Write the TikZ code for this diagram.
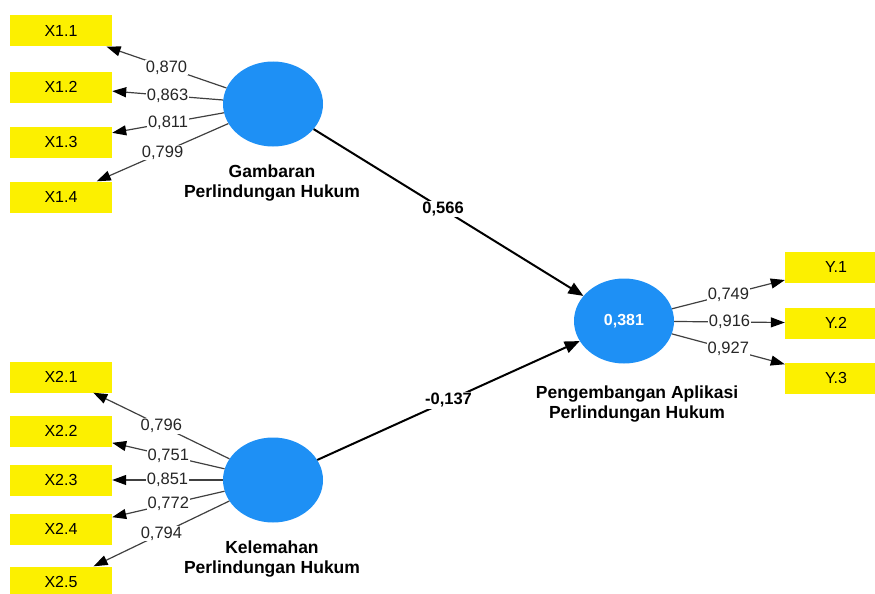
\documentclass[tikz,border=0pt]{standalone}
\usepackage{fontspec}
\setmainfont{Liberation Sans}
\usetikzlibrary{shapes.geometric,arrows.meta}
\definecolor{indc}{RGB}{252,240,0}
\definecolor{latc}{RGB}{30,144,245}
\begin{document}
\begin{tikzpicture}[x=1pt,y=-1pt,
  ind/.style={fill=indc, minimum width=102pt, minimum height=31pt, inner sep=0pt,
    font=\fontsize{16}{19}\selectfont},
  lv/.style={ellipse, fill=latc, minimum width=100pt, minimum height=85pt, inner sep=0pt,
    text=white, font=\fontsize{16}{19}\selectfont\bfseries},
  lab/.style={align=center, font=\fontsize{17.5}{20}\selectfont\bfseries, fill=white, inner sep=1pt},
  load/.style={draw=black!75, line width=1.2pt, -{Triangle[length=14pt,width=10pt,color=black]}},
  pth/.style={draw=black, line width=2pt, -{Triangle[length=15pt,width=12pt]}},
  val/.style={fill=white, inner sep=1pt, font=\fontsize{16.5}{19}\selectfont, text=black!85},
  pval/.style={fill=white, inner sep=1pt, font=\fontsize{16.5}{19}\selectfont\bfseries, text=black}
]
\useasboundingbox (0,0) rectangle (875,594);
% indicators
\node[ind] (X11) at (61,31) {X1.1};
\node[ind] (X12) at (61,87) {X1.2};
\node[ind] (X13) at (61,142) {X1.3};
\node[ind] (X14) at (61,197) {X1.4};
\node[ind] (X21) at (61,377) {X2.1};
\node[ind] (X22) at (61,431) {X2.2};
\node[ind] (X23) at (61,480) {X2.3};
\node[ind] (X24) at (61,529) {X2.4};
\node[ind] (X25) at (61,582) {X2.5};
\node[ind] (Y1) at (836,267) {Y.1};
\node[ind] (Y2) at (836,323) {Y.2};
\node[ind] (Y3) at (836,378) {Y.3};
% latent variables
\node[lv] (G) at (273,104) {};
\node[lv] (K) at (273,480) {};
\node[lv] (P) at (624,321) {0,381};
% loadings
\draw[load] (G) -- node[val] {0,870} (X11);
\draw[load] (G) -- node[val] {0,863} (X12);
\draw[load] (G) -- node[val] {0,811} (X13);
\draw[load] (G) -- node[val] {0,799} (X14);
\draw[load] (K) -- node[val] {0,796} (X21);
\draw[load] (K) -- node[val] {0,751} (X22);
\draw[load] (K) -- node[val] {0,851} (X23);
\draw[load] (K) -- node[val] {0,772} (X24);
\draw[load] (K) -- node[val] {0,794} (X25);
\draw[load] (P) -- node[val] {0,749} (Y1);
\draw[load] (P) -- node[val] {0,916} (Y2);
\draw[load] (P) -- node[val] {0,927} (Y3);
% paths
\draw[pth] (G) -- node[pval, pos=0.48] {0,566} (P);
\draw[pth] (K) -- node[pval] {-0,137} (P);
% labels
\node[lab] (LG) at (272,183) {Gambaran\\Perlindungan Hukum};
\node[lab] (LK) at (272,559) {Kelemahan\\Perlindungan Hukum};
\node[lab] (LP) at (637,404) {Pengembangan Aplikasi\\Perlindungan Hukum};
\end{tikzpicture}
\end{document}
